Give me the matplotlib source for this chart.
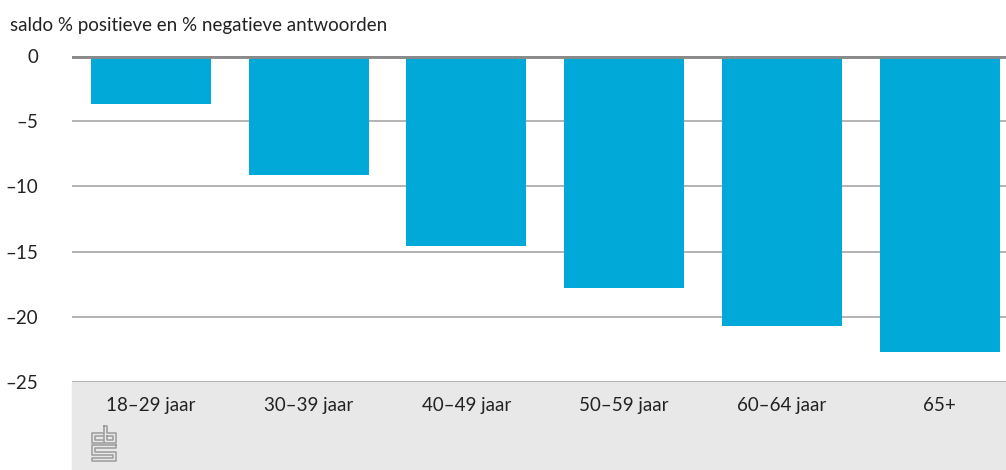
import matplotlib.pyplot as plt
import numpy as np
from matplotlib.patches import Rectangle

plt.rcParams["font.family"] = ["Lato", "DejaVu Sans"]

categories = ["18–29 jaar", "30–39 jaar", "40–49 jaar", "50–59 jaar", "60–64 jaar", "65+"]
values = [-3.7, -9.1, -14.6, -17.8, -20.7, -22.7]
yticks = [0, -5, -10, -15, -20, -25]
ytick_labels = ["0", "–5", "–10", "–15", "–20", "–25"]
title = "saldo % positieve en % negatieve antwoorden"

W, H = 1006, 470
fig = plt.figure(figsize=(W / 100, H / 100), dpi=100)
left, right, top, bottom = 72, 1006, 56, 382
ax = fig.add_axes([left / W, 1 - bottom / H, (right - left) / W, (bottom - top) / H])
ax.set_zorder(2)

# gray band under the plot
fig.patches.append(Rectangle((left / W, 0), (right - left) / W, 1 - bottom / H,
                             transform=fig.transFigure, color="#e8e8e8", zorder=0))

x = np.arange(len(categories))
ax.bar(x, values, width=0.76, color="#00a9d8", zorder=2)
for t in yticks[1:]:
    ax.axhline(t, color="#a6a6a6", linewidth=1.2, zorder=1)
ax.axhline(0, color="#8a8a8a", linewidth=3.5, zorder=3)

ax.set_xlim(-0.5, 5.42)
ax.set_ylim(-25, 0)
ax.set_yticks(yticks)
ax.set_yticklabels(ytick_labels, fontsize=13.5, color="#222222")
ax.tick_params(axis="y", length=0, pad=24.5)  # pad in points (~34 px)
ax.set_xticks([])
for s in ax.spines.values():
    s.set_visible(False)
ax.patch.set_alpha(0)

# category labels inside the gray band
for xi, c in zip(x, categories):
    ax.text(xi, -25 - 23 / 13.04, c, ha="center", va="center",
            fontsize=13.5, color="#222222", clip_on=False)

fig.text(10 / W, 1 - 25 / H, title, ha="left", va="center", fontsize=13.5, color="#222222")

# simplified cbs logo
lc = "#9a9a9a"
def px(xp, yp):
    return xp / W, 1 - yp / H
segs = [
    [(103, 433), (92, 433), (92, 443), (103, 443)],
    [(103, 436), (95, 436), (95, 440), (103, 440)],
    [(104, 426), (104, 443), (116, 443), (116, 433), (107, 433), (107, 426), (104, 426)],
    [(107, 436), (113, 436), (113, 440), (107, 440), (107, 436)],
    [(116, 445), (92, 445), (92, 455), (113, 455), (113, 458), (92, 458), (92, 461),
     (116, 461), (116, 452), (95, 452), (95, 448), (116, 448), (116, 445)],
]
for seg in segs:
    pts = [px(a, b) for a, b in seg]
    fig.add_artist(plt.Line2D([p[0] for p in pts], [p[1] for p in pts],
                              transform=fig.transFigure, color=lc, linewidth=1.1))

fig.savefig("out.png", dpi=100)
